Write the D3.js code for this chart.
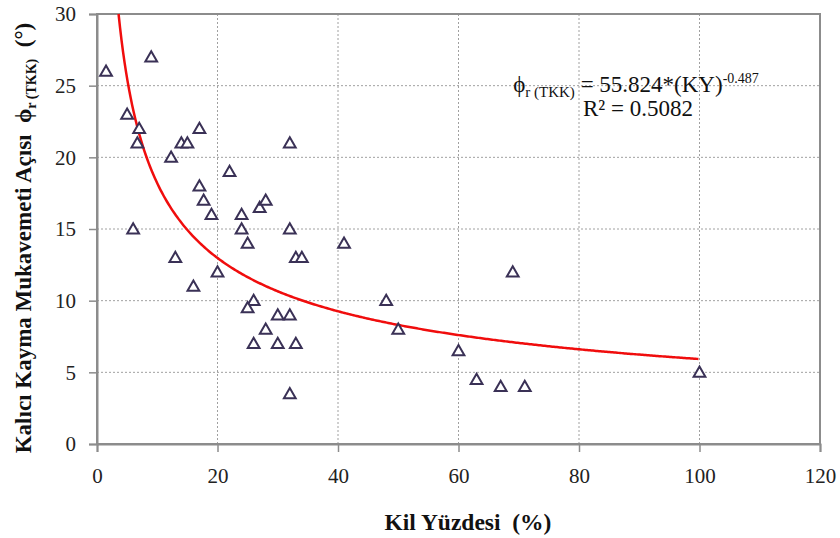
<!DOCTYPE html>
<html>
<head>
<meta charset="utf-8">
<script src="https://cdn.jsdelivr.net/npm/d3@7"></script>
<style>
  body { margin: 0; background: #fff; }
  svg { font-family: "Liberation Serif", "DejaVu Serif", serif; }
  svg text { white-space: pre; }
</style>
</head>
<body>
<svg id="chart" width="840" height="538"></svg>
<script>
// clay percentage (KY) vs residual shear angle
const clayPct = [1.5, 9, 5, 7, 6.7, 12.3, 14, 15, 17, 32, 22, 17, 17.7, 19, 24, 27, 28, 6, 24, 32,
  25, 41, 13, 33, 34, 20, 16, 26, 25, 30, 32, 28, 26, 30, 33, 32, 69, 48, 50, 60, 63, 67, 71, 100]
const phiR = [26, 27, 23, 22, 21, 20, 21, 21, 22, 21, 19, 18, 17, 16, 16, 16.5, 17, 15, 15, 15,
  14, 14, 13, 13, 13, 12, 11, 10, 9.5, 9, 9, 8, 7, 7, 7, 3.5, 12, 10, 8, 6.5, 4.5, 4, 4, 5]
const xTicks = [0, 20, 40, 60, 80, 100, 120]
const yTicks = [0, 5, 10, 15, 20, 25, 30]
const fitA = 55.824, fitB = -0.487

const svg = d3.select("#chart")
const x = d3.scaleLinear().domain([0, 120]).range([97, 820])
const y = d3.scaleLinear().domain([0, 30]).range([444, 14])

// grid
const grid = svg.append("g")
grid.selectAll(".gx").data(xTicks.slice(1, -1)).join("line")
  .attr("x1", d => x(d)).attr("x2", d => x(d))
  .attr("y1", y(0)).attr("y2", y(30))
  .attr("stroke", "#a0a0a0").attr("stroke-dasharray", "2,2")
grid.selectAll(".gy").data(yTicks.slice(1, -1)).join("line")
  .attr("x1", x(0)).attr("x2", x(120))
  .attr("y1", d => y(d)).attr("y2", d => y(d))
  .attr("stroke", "#a0a0a0").attr("stroke-dasharray", "2,2")

// frame
svg.append("rect")
  .attr("x", x(0)).attr("y", y(30))
  .attr("width", x(120) - x(0)).attr("height", y(0) - y(30))
  .attr("fill", "none").attr("stroke", "#8c8c8c").attr("stroke-width", 2)

// axes
const xAxis = svg.append("g").attr("transform", `translate(0,${y(0)})`)
  .call(d3.axisBottom(x).tickValues(xTicks).tickSize(8).tickPadding(16))
const yAxis = svg.append("g").attr("transform", `translate(${x(0)},0)`)
  .call(d3.axisLeft(y).tickValues(yTicks).tickSize(8).tickPadding(13))
;[xAxis, yAxis].forEach(g => {
  g.attr("font-family", null)
  g.select(".domain").attr("stroke", "#8c8c8c").attr("stroke-width", 2)
  g.selectAll(".tick line").attr("stroke", "#8c8c8c").attr("stroke-width", 1.5)
  g.selectAll(".tick text").attr("fill", "#222")
    .style("font-size", "21px").style("font-family", "'Liberation Serif', serif")
})

// power fit curve
const xStart = Math.pow(30 / fitA, 1 / fitB)
const curveX = d3.range(xStart, 100.001, 0.25)
svg.append("path")
  .datum(curveX)
  .attr("fill", "none").attr("stroke", "#f00d0d").attr("stroke-width", 2.5)
  .attr("d", d3.line().x(d => x(d)).y(d => y(fitA * Math.pow(d, fitB))))

// points
svg.append("g").selectAll("path").data(clayPct).join("path")
  .attr("d", d3.symbol(d3.symbolTriangle, 60))
  .attr("transform", (d, i) => `translate(${x(d)},${y(phiR[i]) + 1})`)
  .attr("fill", "#fff").attr("stroke", "#3a3156").attr("stroke-width", 2)

// equation
const eq = svg.append("text").attr("x", 636).attr("y", 92)
  .attr("text-anchor", "middle").style("font-size", "23px").attr("fill", "#111")
eq.append("tspan").text("ϕ")
eq.append("tspan").text("r (TKK)").style("font-size", "15px").attr("dy", 5)
eq.append("tspan").text(" = 55.824*(KY)").attr("dy", -5)
eq.append("tspan").text("-0.487").style("font-size", "14px").attr("dy", -9)
svg.append("text").attr("x", 638).attr("y", 116)
  .attr("text-anchor", "middle").style("font-size", "23px").attr("fill", "#111")
  .text("R² = 0.5082")

// axis titles
svg.append("text").attr("x", 468).attr("y", 530)
  .attr("text-anchor", "middle").style("font-size", "23.5px").style("font-weight", "bold")
  .attr("fill", "#111").text("Kil Yüzdesi  (%)")

const yt = svg.append("text")
  .attr("transform", "translate(31,238) rotate(-90)")
  .attr("text-anchor", "middle").style("font-size", "23px").style("font-weight", "bold")
  .attr("fill", "#111")
yt.append("tspan").text("Kalıcı Kayma Mukavemeti Açısı  ϕ")
yt.append("tspan").text("r (TKK)").style("font-size", "14px").attr("dy", 5)
yt.append("tspan").text("  (°)").attr("dy", -5)
</script>
</body>
</html>
